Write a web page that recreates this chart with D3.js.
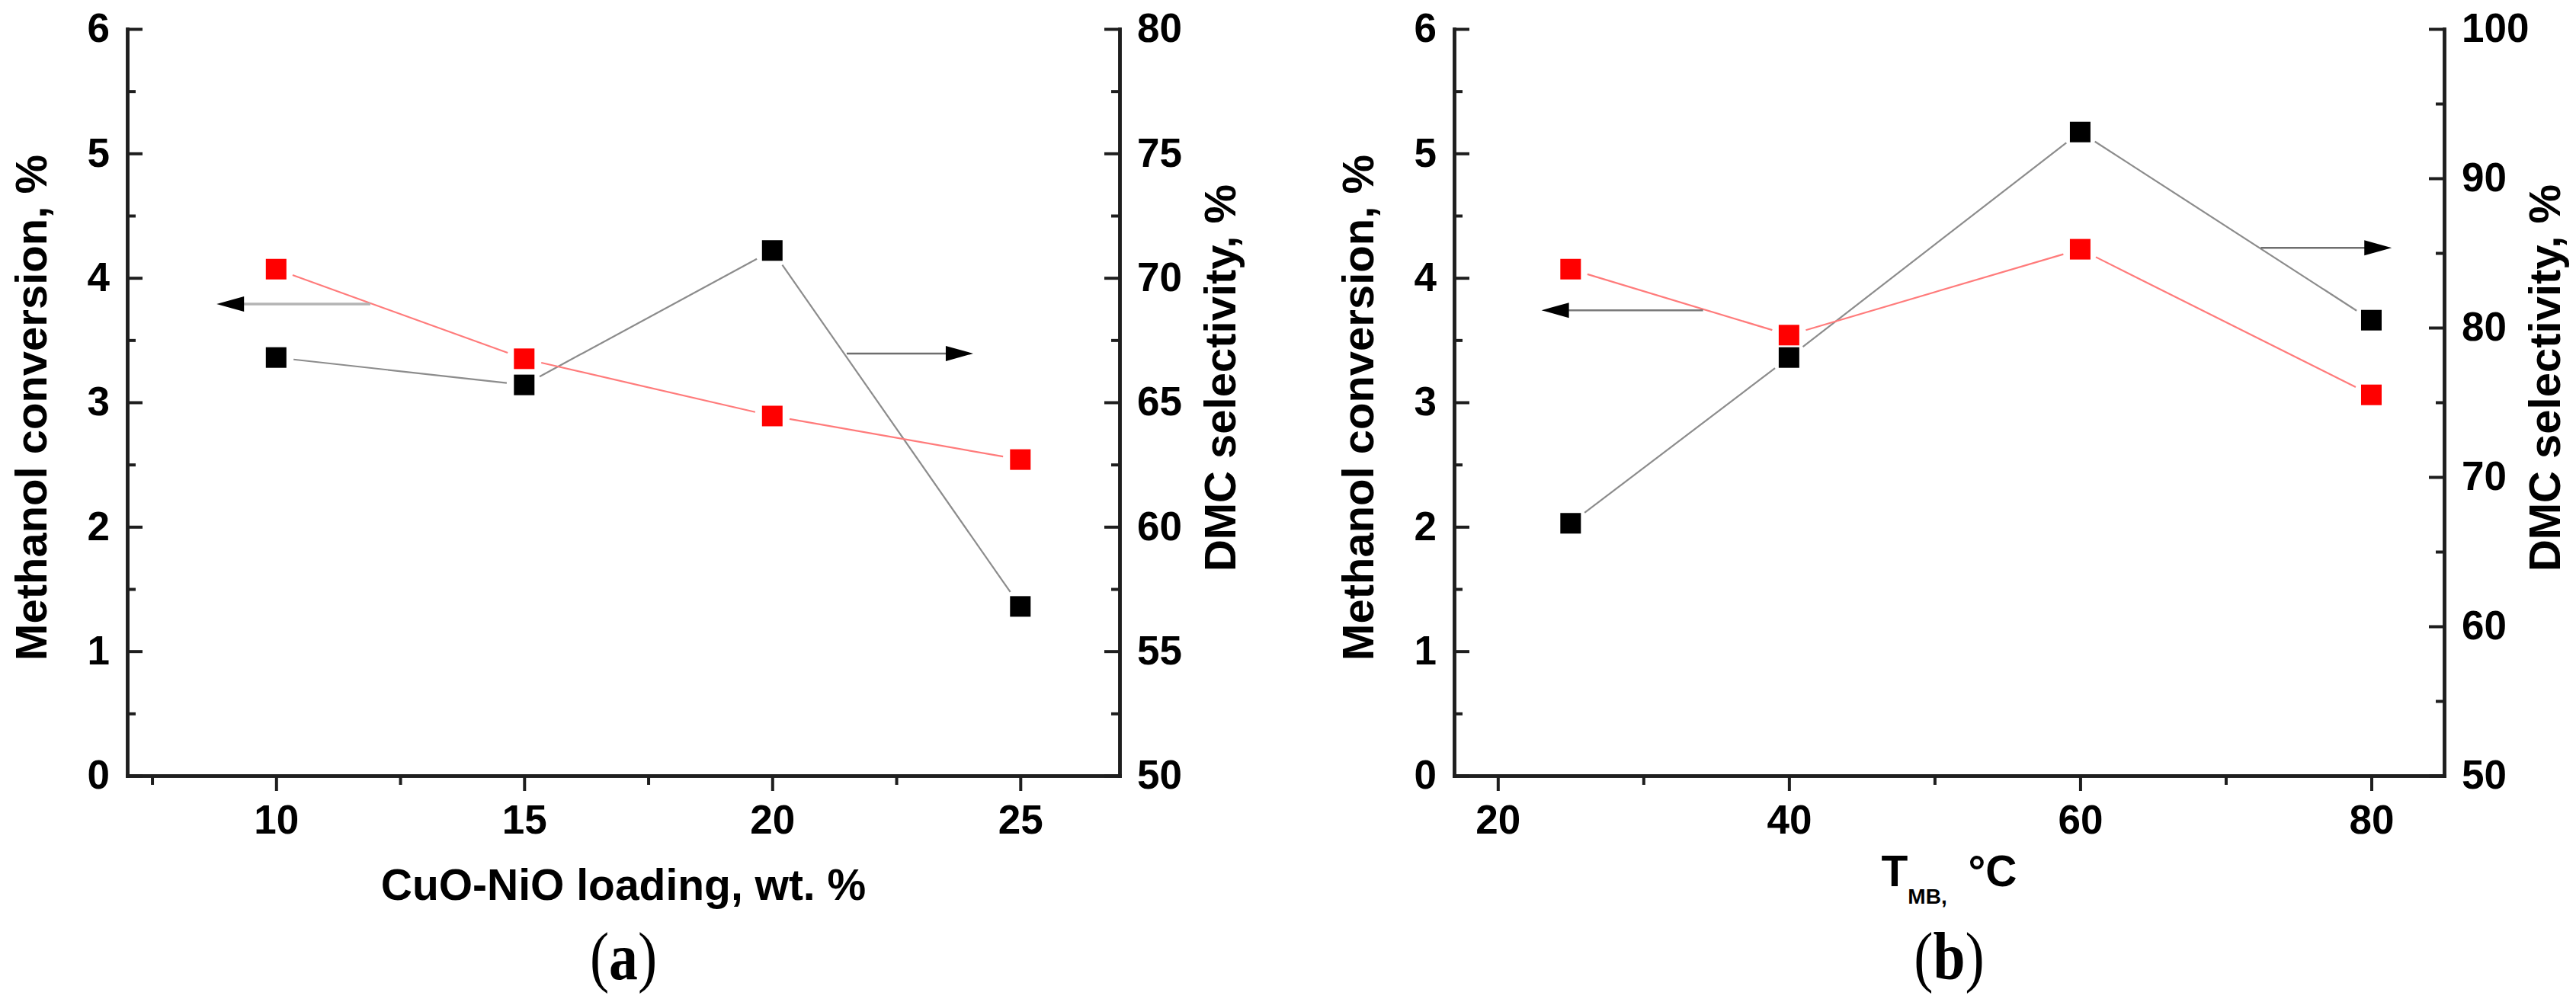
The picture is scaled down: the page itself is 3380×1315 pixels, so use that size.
<!DOCTYPE html>
<html>
<head>
<meta charset="utf-8">
<script src="https://cdn.jsdelivr.net/npm/d3@7"></script>
<style>
    body{margin:0;background:#fff;}
    svg{display:block;}
    .tick text{font-family:"Liberation Sans",Arial,sans-serif;font-weight:bold;font-size:53px;fill:#000;}
    .title{font-family:"Liberation Sans",Arial,sans-serif;font-weight:bold;font-size:58px;fill:#000;}
    .caption{font-family:"Liberation Serif","Times New Roman",serif;font-size:88px;fill:#000;}
</style>
</head>
<body>
<script>
'use strict';

// panel (a): CuO-NiO loading
var loadA=[10,15,20,25]
  , convA=[4.07,3.35,2.89,2.54]
  , selA=[66.8,65.7,71.1,56.8]
  , xTicksA=[10,15,20,25]
  , yRTicksA=[50,55,60,65,70,75,80];

// panel (b): T_MB
var tempB=[25,40,60,80]
  , convB=[4.07,3.54,4.23,3.06]
  , selB=[66.9,78.0,93.1,80.5]
  , xTicksB=[20,40,60,80]
  , yRTicksB=[50,60,70,80,90,100];

var yLTicks=[0,1,2,3,4,5,6];

// arrows pointing to the axis of each series (x from, x to, y on that axis)
var arrowsA=[{from:11.9,to:8.8,y:3.79,side:'left',col:'#b4b4b4',w:3.5},
             {from:21.5,to:24.05,y:66.96,side:'right',col:'#6e6e6e',w:2.5}]
  , arrowsB=[{from:34.1,to:23.0,y:3.74,side:'left',col:'#7a7a7a',w:2.5},
             {from:72.4,to:81.4,y:85.35,side:'right',col:'#6e6e6e',w:2.5}];

var W=3380,H=1315,plotTop=38,plotBottom=1018;

var svg=d3.select('body').append('svg')
    .attr('width',W)
    .attr('height',H);

svg.append('rect').attr('width',W).attr('height',H).attr('fill','#fff');

function panel(o){
    var g=svg.append('g')
      , x=d3.scaleLinear().domain(o.xDom).range([o.left,o.right])
      , yL=d3.scaleLinear().domain([0,6]).range([plotBottom,plotTop])
      , yR=d3.scaleLinear().domain(o.yRDom).range([plotBottom,plotTop])
      , fmt=d3.format('d');

    // minor ticks first, majors on top
    g.append('g').attr('transform','translate(0,'+plotBottom+')')
        .call(d3.axisBottom(x).tickValues(o.xMinor).tickSize(12).tickSizeOuter(0).tickFormat(''));
    g.append('g').attr('transform','translate('+o.left+',0)')
        .call(d3.axisLeft(yL).tickValues(d3.range(0.5,6,1)).tickSize(-11).tickSizeOuter(0).tickFormat(''));
    g.append('g').attr('transform','translate('+o.right+',0)')
        .call(d3.axisRight(yR).tickValues(o.yRMinor).tickSize(-11).tickSizeOuter(0).tickFormat(''));

    g.append('g').attr('transform','translate(0,'+plotBottom+')')
        .call(d3.axisBottom(x).tickValues(o.xTicks).tickFormat(fmt).tickSize(20).tickSizeOuter(0).tickPadding(18));
    g.append('g').attr('transform','translate('+o.left+',0)')
        .call(d3.axisLeft(yL).tickValues(yLTicks).tickFormat(fmt).tickSize(-20).tickSizeOuter(0).tickPadding(23));
    g.append('g').attr('transform','translate('+o.right+',0)')
        .call(d3.axisRight(yR).tickValues(o.yRTicks).tickFormat(fmt).tickSize(-20).tickSizeOuter(0).tickPadding(23));

    g.selectAll('.domain')
        .attr('stroke','#1e1e1e')
        .attr('stroke-width',4.5)
        .attr('stroke-linecap','square');
    g.selectAll('.tick line')
        .attr('stroke','#1e1e1e')
        .attr('stroke-width',4);

    // series lines, broken short of the markers
    function gapped(xs,ys,ysc,col){
        var p=xs.map(function(d,i){return [x(d),ysc(ys[i])];})
          , gap=23;
        for(var i=0;i<p.length-1;i++){
            var dx=p[i+1][0]-p[i][0]
              , dy=p[i+1][1]-p[i][1]
              , L=Math.sqrt(dx*dx+dy*dy)
              , ux=dx/L
              , uy=dy/L;
            g.append('line')
                .attr('x1',p[i][0]+ux*gap)
                .attr('y1',p[i][1]+uy*gap)
                .attr('x2',p[i+1][0]-ux*gap)
                .attr('y2',p[i+1][1]-uy*gap)
                .attr('stroke',col)
                .attr('stroke-width',2.2);
        }
    }
    gapped(o.xs,o.sel,yR,'#8c8c8c');
    gapped(o.xs,o.conv,yL,'#ff7b7b');

    var s=27;
    g.selectAll('rect.sel').data(o.xs).enter().append('rect')
        .attr('class','sel')
        .attr('x',function(d){return x(d)-s/2;})
        .attr('y',function(d,i){return yR(o.sel[i])-s/2;})
        .attr('width',s).attr('height',s)
        .attr('fill','#000');
    g.selectAll('rect.conv').data(o.xs).enter().append('rect')
        .attr('class','conv')
        .attr('x',function(d){return x(d)-s/2;})
        .attr('y',function(d,i){return yL(o.conv[i])-s/2;})
        .attr('width',s).attr('height',s)
        .attr('fill','#ff0000');

    // arrows
    o.arrows.forEach(function(a){
        var ys=a.side=='left'?yL:yR
          , y=ys(a.y)
          , x0=x(a.from)
          , x1=x(a.to)
          , dir=x1>x0?1:-1
          , hl=36;
        g.append('line')
            .attr('x1',x0).attr('y1',y)
            .attr('x2',x1-dir*hl*0.8).attr('y2',y)
            .attr('stroke',a.col)
            .attr('stroke-width',a.w);
        g.append('path')
            .attr('d','M'+x1+','+y+' L'+(x1-dir*hl)+','+(y-10)+' L'+(x1-dir*hl)+','+(y+10)+' Z')
            .attr('fill','#000');
    });

    // axis titles
    g.append('text')
        .attr('class','title')
        .attr('text-anchor','middle')
        .attr('transform','translate('+(o.left-106)+',535) rotate(-90)')
        .text('Methanol conversion, %');
    g.append('text')
        .attr('class','title')
        .attr('text-anchor','middle')
        .attr('transform','translate('+(o.right+152)+',496) rotate(-90)')
        .text('DMC selectivity, %');

    var cx=(o.left+o.right)/2;
    o.xTitle(g.append('text')
        .attr('class','title')
        .attr('text-anchor','middle')
        .style('font-size','57px')
        .attr('x',cx));

    var cap=g.append('text')
        .attr('class','caption')
        .attr('text-anchor','middle')
        .attr('transform','translate('+cx+',1285) scale(0.86,1)');
    cap.append('tspan').text('(');
    cap.append('tspan').attr('font-weight','bold').text(o.letter);
    cap.append('tspan').text(')');
}

panel({
    left:167, right:1469,
    xDom:[7,27], yRDom:[50,80],
    xTicks:xTicksA, xMinor:[7.5,12.5,17.5,22.5],
    yRTicks:yRTicksA, yRMinor:d3.range(52.5,80,5),
    xs:loadA, conv:convA, sel:selA,
    arrows:arrowsA,
    letter:'a',
    xTitle:function(t){
        t.attr('y',1181).text('CuO-NiO loading, wt. %');
    }
});

panel({
    left:1908, right:3207,
    xDom:[17,85], yRDom:[50,100],
    xTicks:xTicksB, xMinor:[30,50,70],
    yRTicks:yRTicksB, yRMinor:d3.range(55,100,10),
    xs:tempB, conv:convB, sel:selB,
    arrows:arrowsB,
    letter:'b',
    xTitle:function(t){
        t.attr('y',1163);
        t.append('tspan').text('T');
        t.append('tspan').style('font-size','28px').attr('dy',23).text('MB,');
        t.append('tspan').attr('dy',-23).attr('dx',12).text(' °C');
    }
});
</script>
</body>
</html>
